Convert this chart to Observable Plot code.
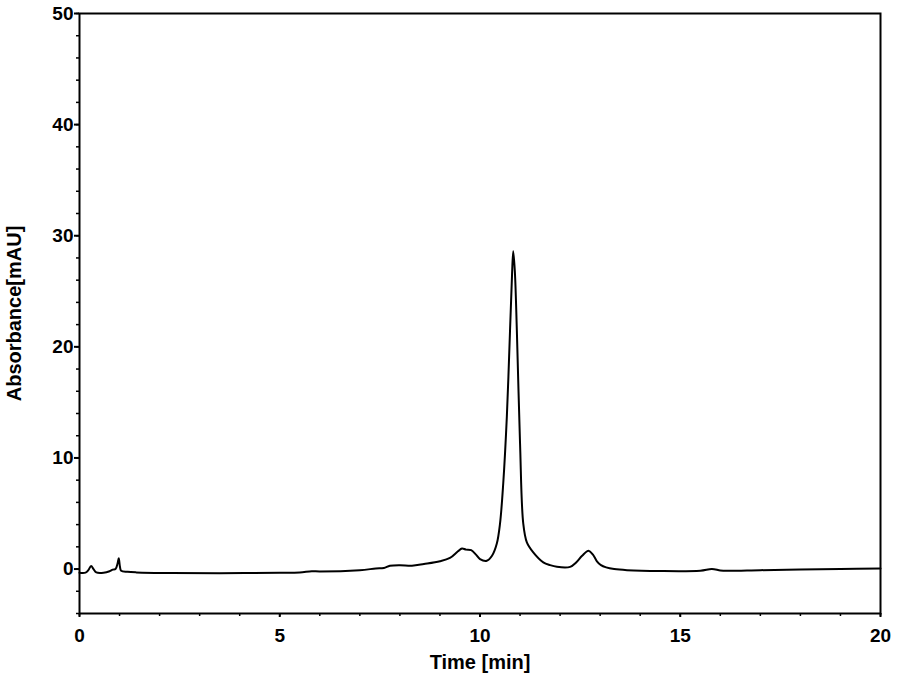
<!DOCTYPE html>
<html>
<head>
<meta charset="utf-8">
<script src="https://cdn.jsdelivr.net/npm/d3@7"></script>
<script src="https://cdn.jsdelivr.net/npm/@observablehq/plot@0.6"></script>
<style>
  html, body { margin: 0; padding: 0; background: #fff; }
</style>
</head>
<body>
<div id="chart"></div>
<script>
const timeMin = [0.0, 0.15, 0.22, 0.29, 0.35, 0.42, 0.6, 0.75, 0.83, 0.9, 0.95, 0.98, 1.01, 1.04, 1.2, 1.42, 2.3, 3.5, 5.0, 5.5, 5.8, 6.0, 7.0, 7.4, 7.6, 7.75, 8.0, 8.3, 8.6, 9.0, 9.25, 9.45, 9.55, 9.65, 9.78, 9.9, 10.0, 10.17, 10.3, 10.42, 10.5, 10.58, 10.67, 10.75, 10.8, 10.83, 10.87, 10.92, 11.0, 11.08, 11.17, 11.33, 11.58, 11.75, 11.92, 12.25, 12.4, 12.55, 12.71, 12.82, 12.92, 13.02, 13.15, 13.35, 13.67, 14.5, 15.5, 15.79, 16.0, 16.17, 17, 18, 19, 20];
const absorbance = [-0.33, -0.32, -0.1, 0.28, 0.0, -0.3, -0.33, -0.2, -0.05, 0.0, 0.5, 0.97, 0.2, -0.15, -0.25, -0.3, -0.36, -0.37, -0.33, -0.3, -0.2, -0.22, -0.1, 0.05, 0.1, 0.3, 0.35, 0.3, 0.45, 0.7, 1.0, 1.6, 1.85, 1.75, 1.7, 1.3, 0.9, 0.75, 1.2, 2.3, 4.1, 7.7, 13.7, 21.5, 26.5, 28.6, 26.8, 21.5, 11.3, 4.1, 2.4, 1.5, 0.6, 0.35, 0.2, 0.2, 0.6, 1.2, 1.65, 1.3, 0.7, 0.35, 0.15, 0.0, -0.1, -0.18, -0.15, 0.0, -0.12, -0.15, -0.1, -0.05, 0.0, 0.05];
const xTicks = [0, 5, 10, 15, 20];
const xMinorTicks = d3.range(0, 21, 1);
const yTicks = [0, 10, 20, 30, 40, 50];
const yMinorTicks = d3.range(-4, 51, 2);
const xLabel = "Time [min]";
const yLabel = "Absorbance[mAU]";

const data = timeMin.map((t, i) => ({t, v: absorbance[i]}));

const chart = Plot.plot({
  width: 905,
  height: 676,
  marginLeft: 79,
  marginRight: 25,
  marginTop: 13,
  marginBottom: 63,
  style: {fontFamily: "'Liberation Sans', Arial, sans-serif", fontWeight: "bold", fontSize: "18px", color: "#000"},
  x: {domain: [0, 20], label: null},
  y: {domain: [-4, 50], label: null},
  marks: [
    Plot.axisX(xMinorTicks, {tickSize: 3, text: null, strokeWidth: 1.5, label: null}),
    Plot.axisX(xTicks, {tickSize: 4, tickPadding: 11, strokeWidth: 2, fontSize: 19, fontWeight: "bold", label: null}),
    Plot.axisY(yMinorTicks, {tickSize: 3, text: null, strokeWidth: 1.5, label: null}),
    Plot.axisY(yTicks, {tickSize: 5, tickPadding: 1, strokeWidth: 2, fontSize: 19, fontWeight: "bold", label: null}),
    Plot.line(data, {x: "t", y: "v", stroke: "#000", strokeWidth: 2, curve: "catmull-rom"}),
    Plot.frame({stroke: "#000", strokeWidth: 2}),
    Plot.text([xLabel], {frameAnchor: "bottom", dy: 49, lineAnchor: "middle", textAnchor: "middle", fontSize: 20, fontWeight: "bold", fill: "#000"}),
    Plot.text([yLabel], {frameAnchor: "left", dx: -65, rotate: -90, textAnchor: "middle", lineAnchor: "middle", fontSize: 20, fontWeight: "bold", fill: "#000"})
  ]
});
document.getElementById("chart").appendChild(chart);
</script>
</body>
</html>
